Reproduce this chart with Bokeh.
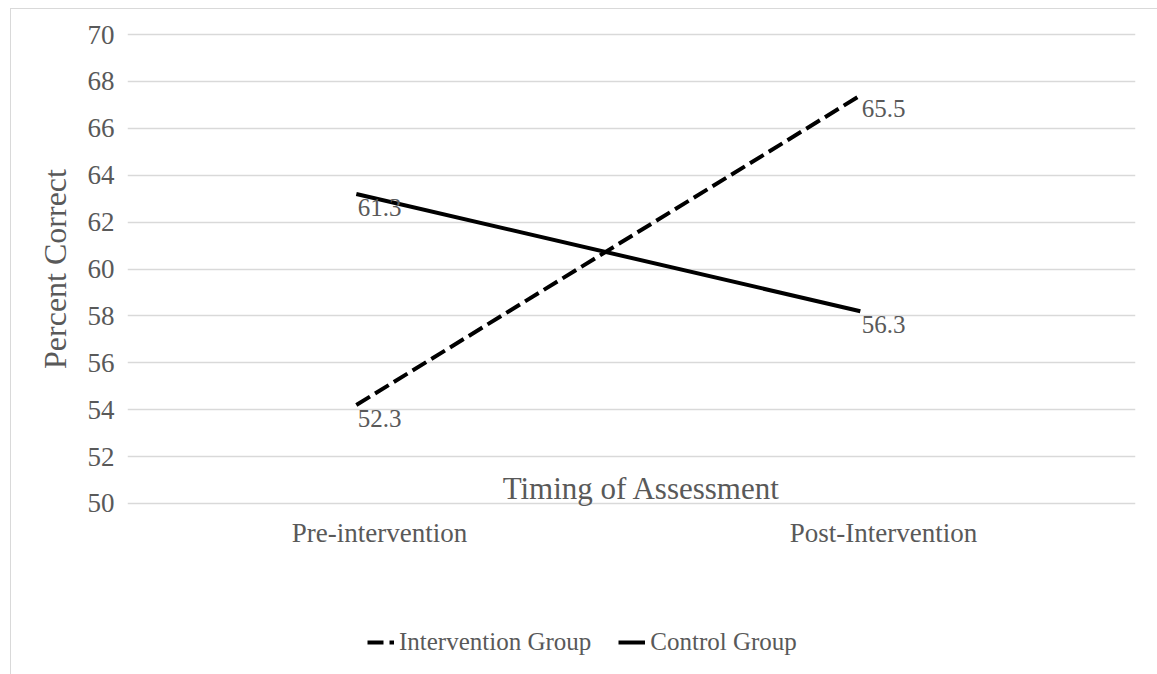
from bokeh.plotting import figure
from bokeh.layouts import column
from bokeh.models import (ColumnDataSource, FactorRange, Range1d, FixedTicker, Legend,
                          LegendItem, Label)
from bokeh.transform import dodge
from bokeh.core.properties import value
from bokeh.embed import file_html
from bokeh.resources import INLINE

# ---- data ----
categories = ["Pre-intervention", "Post-Intervention"]
intervention = [54.2, 67.4]          # plotted line positions
control = [63.2, 58.2]
intervention_labels = ["52.3", "65.5"]  # data label texts
control_labels = ["61.3", "56.3"]
series_names = ["Intervention Group", "Control Group"]
y_ticks = [50, 52, 54, 56, 58, 60, 62, 64, 66, 68, 70]

FONT = "Liberation Serif"
GRAY = "#595959"
DASH = "16 6"

src = ColumnDataSource(dict(cat=categories, inter=intervention, ctrl=control,
                            inter_lbl=intervention_labels, ctrl_lbl=control_labels))

p = figure(width=1146, height=591, x_range=FactorRange(factors=categories),
           y_range=Range1d(49.872, 70.128), output_backend="svg", toolbar_location=None,
           min_border_left=116, min_border_right=22, min_border_top=22, min_border_bottom=94)
p.outline_line_color = None
p.background_fill_color = "white"
p.border_fill_color = "white"

# axes
p.yaxis.ticker = FixedTicker(ticks=y_ticks)
for ax in (p.xaxis[0], p.yaxis[0]):
    ax.axis_line_color = None
    ax.major_tick_line_color = None
    ax.minor_tick_line_color = None
    ax.major_tick_out = 0
    ax.major_tick_in = 0
    ax.major_label_text_font = FONT
    ax.major_label_text_font_size = "27px"
    ax.major_label_text_color = GRAY
p.yaxis.major_label_standoff = 13
p.xaxis.major_label_standoff = 11
p.yaxis.axis_label = "Percent Correct"
p.yaxis.axis_label_text_font = FONT
p.yaxis.axis_label_text_font_size = "32px"
p.yaxis.axis_label_text_font_style = "normal"
p.yaxis.axis_label_text_color = GRAY
p.yaxis.axis_label_standoff = 12

p.xgrid.grid_line_color = None
p.ygrid.grid_line_color = "#d9d9d9"
p.ygrid.grid_line_width = 1.5

# lines
p.line(x=dodge("cat", -0.046, range=p.x_range), y="inter", source=src,
       line_color="black", line_width=4, line_dash=DASH)
p.line(x=dodge("cat", -0.046, range=p.x_range), y="ctrl", source=src,
       line_color="black", line_width=4)

# data labels
for col, lbl in (("inter", "inter_lbl"), ("ctrl", "ctrl_lbl")):
    p.text(x="cat", y=col, text=lbl, source=src, text_align="center",
           text_baseline="top", y_offset=5, text_font=value(FONT),
           text_font_size="25px", text_color=GRAY)

# x axis title (sits inside plot area)
p.add_layout(Label(x=1.02, y=50.65, text="Timing of Assessment", text_align="center",
                   text_baseline="middle", text_font=FONT, text_font_size="31px",
                   text_color=GRAY))

# legend strip below the chart (frame aligned with the chart's frame)
lf = figure(width=1146, height=74, x_range=Range1d(0, 1), y_range=Range1d(0, 1),
            x_axis_type=None, y_axis_type=None, output_backend="svg", toolbar_location=None,
            min_border=0)
lf.outline_line_color = None
lf.xgrid.visible = False
lf.ygrid.visible = False
# off-screen stand-ins that only provide the legend swatches
g1 = lf.line(x=[0, 1], y=[-5, -5], line_color="black", line_width=4, line_dash=DASH)
g2 = lf.line(x=[0, 1], y=[-5, -5], line_color="black", line_width=4)
legend = Legend(items=[LegendItem(label=series_names[0], renderers=[g1]),
                       LegendItem(label=series_names[1], renderers=[g2])],
                orientation="horizontal", location=(240, 18))
legend.border_line_alpha = 0
legend.background_fill_alpha = 0
legend.padding = 0
legend.margin = 0
legend.spacing = 27
legend.glyph_width = 27
legend.glyph_height = 20
legend.label_standoff = 5
legend.label_text_font = FONT
legend.label_text_font_size = "25px"
legend.label_text_color = GRAY
lf.add_layout(legend)

layout = column(p, lf, spacing=0)
layout.styles = {"margin-left": "10px", "margin-top": "8px",
                 "border-left": "1px solid #d9d9d9", "border-top": "1px solid #d9d9d9"}

open("out.html", "w").write(file_html(layout, INLINE))
